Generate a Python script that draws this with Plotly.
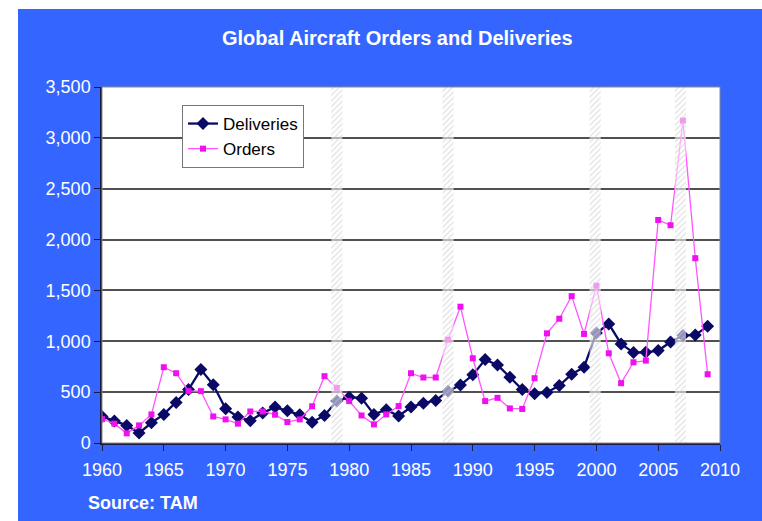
import plotly.graph_objects as go

# Annual global aircraft figures, 1960-2009
years = list(range(1960, 2010))
deliveries = [261, 216, 173, 98, 199, 281, 399, 526, 722, 572,
              337, 255, 219, 294, 353, 317, 277, 205, 271, 412,
              451, 441, 281, 327, 265, 353, 392, 418, 510, 569,
              670, 820, 768, 647, 526, 484, 497, 565, 676, 745,
              1082, 1170, 974, 889, 892, 909, 993, 1056, 1062, 1147]
orders = [235, 190, 95, 173, 281, 745, 686, 510, 510, 261,
          232, 190, 310, 310, 278, 206, 232, 361, 657, 542,
          412, 271, 183, 281, 363, 686, 644, 644, 1016, 1340,
          833, 412, 444, 340, 335, 637, 1078, 1222, 1444, 1072,
          1546, 882, 588, 794, 810, 2193, 2141, 3170, 1817, 676]

# Shaded (hatched) periods, centre year of each band
band_years = [1979.0, 1988.0, 1999.9, 2006.8]

y_ticks = [0, 500, 1000, 1500, 2000, 2500, 3000, 3500]
x_ticks = list(range(1960, 2011, 5))

BLUE = "#3466FF"
FONT = "Liberation Sans, Arial, sans-serif"

W, H = 762, 521
ML, MR, MT, MB = 102, 42, 87, 78
PW, PH = W - ML - MR, H - MT - MB


def px_x(p):
    return (p - ML) / PW


def px_y(p):
    return (H - MB - p) / PH


fig = go.Figure()

fig.add_trace(go.Scatter(
    x=years, y=deliveries, name="Deliveries", mode="lines+markers",
    line=dict(color="#0A0A66", width=2.3),
    marker=dict(symbol="diamond", size=10, color="#0A0A66"),
))
fig.add_trace(go.Scatter(
    x=years, y=orders, name="Orders", mode="lines+markers",
    line=dict(color="#FF55FF", width=1.3),
    marker=dict(symbol="square", size=6, color="#EE10EE"),
))

# hatched bands drawn over the lines
half = 0.45
for c in band_years:
    fig.add_trace(go.Scatter(
        x=[c - half, c + half, c + half, c - half, c - half],
        y=[0, 0, 3500, 3500, 0],
        mode="lines", fill="toself",
        line=dict(width=0, color="rgba(0,0,0,0)"),
        fillcolor="rgba(255,255,255,0.55)",
        fillpattern=dict(shape="/", fgcolor="#c8c8c8", bgcolor="rgba(255,255,255,0.55)",
                         size=4, solidity=0.35),
        showlegend=False, hoverinfo="skip",
    ))

# white strips along the top and left edges of the page
fig.add_shape(type="rect", xref="paper", yref="paper",
              x0=px_x(0), x1=px_x(W), y0=px_y(9), y1=px_y(0),
              fillcolor="white", line=dict(width=0), layer="below")
fig.add_shape(type="rect", xref="paper", yref="paper",
              x0=px_x(0), x1=px_x(18), y0=px_y(H), y1=px_y(0),
              fillcolor="white", line=dict(width=0), layer="below")
# plot-area frame
fig.add_shape(type="rect", xref="paper", yref="paper", x0=0, x1=1, y0=0, y1=1,
              line=dict(color="#8a8a8a", width=1), layer="above")

fig.add_annotation(text="<b>Global Aircraft Orders and Deliveries</b>",
                   xref="paper", yref="paper", x=px_x(397), y=px_y(38),
                   xanchor="center", yanchor="middle", showarrow=False,
                   font=dict(family=FONT, size=20, color="white"))
fig.add_annotation(text="<b>Source: TAM</b>", xref="paper", yref="paper",
                   x=px_x(86), y=px_y(503), xanchor="left", yanchor="middle",
                   showarrow=False, font=dict(family=FONT, size=18, color="white"))

fig.update_layout(
    width=W, height=H,
    margin=dict(l=ML, r=MR, t=MT, b=MB, pad=0),
    paper_bgcolor=BLUE, plot_bgcolor="white",
    font=dict(family=FONT, size=18, color="white"),
    legend=dict(x=px_x(182), y=px_y(105), xanchor="left", yanchor="top",
                bgcolor="white", bordercolor="#777777", borderwidth=1,
                font=dict(family=FONT, size=17, color="black"),
                tracegroupgap=0, itemwidth=30),
    showlegend=True,
)
fig.update_xaxes(range=[1960, 2010], tickvals=x_ticks, ticks="outside", ticklen=6,
                 tickcolor="#1a1a40", showgrid=False, showline=True,
                 linecolor="#1a1a40", linewidth=1.5, zeroline=False,
                 ticklabelstandoff=4,
                 tickfont=dict(color="white", size=18))
fig.update_yaxes(range=[0, 3500], tickvals=y_ticks, tickformat=",", ticks="outside",
                 ticklen=6, tickcolor="#1a1a40", showgrid=True, gridcolor="#505050",
                 gridwidth=1.5, showline=True, linecolor="#1a1a40", linewidth=1.5,
                 zeroline=False, tickfont=dict(color="white", size=18))

fig.write_html("out.html")
